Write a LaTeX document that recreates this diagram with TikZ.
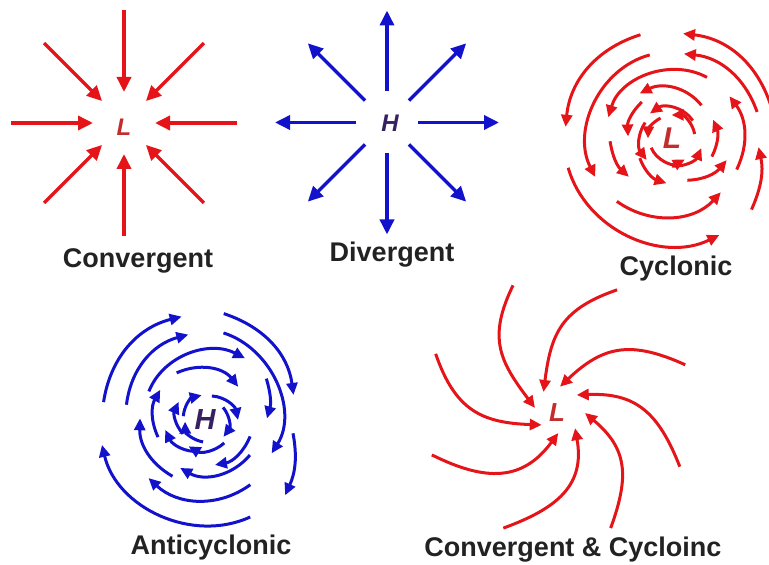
\documentclass[tikz,border=0pt]{standalone}
\usepackage{fontspec}
\setmainfont{Liberation Sans}
\usetikzlibrary{arrows.meta}
\definecolor{rd}{RGB}{228,20,24}
\definecolor{bl}{RGB}{18,18,205}
\definecolor{Ltxt}{RGB}{196,45,45}
\definecolor{Htxt}{RGB}{55,32,95}
\definecolor{lab}{RGB}{34,34,34}
\tikzset{
 straightred/.style={draw=rd, line width=3.5pt, -{Triangle[length=15pt,width=14pt]}},
 straightblue/.style={draw=bl, line width=3.5pt, -{Triangle[length=15pt,width=14pt]}},
 swirlred/.style={draw=rd, line width=3pt, -{Triangle[length=12pt,width=11pt]}},
 swirlblue/.style={draw=bl, line width=3pt, -{Triangle[length=12pt,width=11pt]}},
 caption/.style={font=\fontsize{27}{32}\selectfont\bfseries, text=lab, anchor=base, inner sep=0pt},
 lowL/.style={font=\fontsize{#1}{#1}\selectfont\bfseries\itshape, text=Ltxt, inner sep=0pt},
 highH/.style={font=\fontsize{#1}{#1}\selectfont\bfseries\itshape, text=Htxt, inner sep=0pt}
}
% counter-clockwise spiral segment: style, start angle, end angle, start radius, end radius
\newcommand\ccwarc[5]{%
 \pgfmathsetmacro\sph{atan((#5-#4)/((0.5*(#4+#5))*(abs(#3-#2)/180*pi)))}%
 \pgfmathsetmacro\aout{#2+90-\sph}\pgfmathsetmacro\ain{#3-90-\sph}%
 \draw[#1] (#2:#4) to[out=\aout,in=\ain] (#3:#5);}
% clockwise spiral segment
\newcommand\cwarc[5]{%
 \pgfmathsetmacro\sph{atan((#5-#4)/((0.5*(#4+#5))*(abs(#3-#2)/180*pi)))}%
 \pgfmathsetmacro\aout{#2-90+\sph}\pgfmathsetmacro\ain{#3+90+\sph}%
 \draw[#1] (#2:#4) to[out=\aout,in=\ain] (#3:#5);}
% inflowing arm
\newcommand\inarm[5]{\pgfmathsetmacro\aout{#2+135}\pgfmathsetmacro\ain{#3-40}\draw[#1] (#2:#4) to[out=\aout,in=\ain,looseness=1.2] (#3:#5);}
\begin{document}
\begin{tikzpicture}[x=1pt,y=1pt]
\useasboundingbox (0,0) rectangle (769,565);

% ---------- Convergent ----------
\node[lowL=24] (convL) at (124,438) {L};
\begin{scope}[shift={(124,442)}]
 \foreach \a in {0,45,...,315} \draw[straightred] (\a:113) -- (\a:31);
\end{scope}
\node[caption] (convlab) at (138,297) {Convergent};

% ---------- Divergent ----------
\node[highH=24] (divH) at (390,442) {H};
\begin{scope}[shift={(387,442.5)}]
 \foreach \a in {0,45,...,315} \draw[straightblue] (\a:31) -- (\a:112);
\end{scope}
\node[caption] (divlab) at (392,303) {Divergent};

% ---------- Cyclonic ----------
\node[lowL=30] (cycL) at (672,427) {L};
\begin{scope}[shift={(672,427)}]
 \ccwarc{swirlred}{19}{84}{104}{105}
 \ccwarc{swirlred}{107}{174}{108}{107}
 \ccwarc{swirlred}{196}{296}{108}{108}
 \ccwarc{swirlred}{318}{354}{107}{87}
 \ccwarc{swirlred}{17}{82}{89}{85}
 \ccwarc{swirlred}{105}{207}{86}{86}
 \ccwarc{swirlred}{229}{312}{84}{73}
 \ccwarc{swirlred}{334}{396}{72}{71}
 \ccwarc{swirlred}{60}{162}{70}{67}
 \ccwarc{swirlred}{48}{126}{44}{55}
 \ccwarc{swirlred}{183}{222}{62}{58}
 \ccwarc{swirlred}{290}{338}{45}{59}
 \ccwarc{swirlred}{130}{178}{47}{44}
 \ccwarc{swirlred}{212}{263}{38}{45.6}
 \ccwarc{swirlred}{335}{384}{44}{45}
 \ccwarc{swirlred}{40}{132}{27}{33}
 \ccwarc{swirlred}{150}{221}{31}{33.5}
 \ccwarc{swirlred}{270}{341}{28}{31}
 \ccwarc{swirlred}{10}{91}{23}{23}
 \ccwarc{swirlred}{120}{181}{23}{24}
 \ccwarc{swirlred}{205}{301}{23}{25}
\end{scope}
\node[caption] (cyclab) at (676,289) {Cyclonic};

% ---------- Anticyclonic ----------
\node[highH=29] (antiH) at (205,145) {H};
\begin{scope}[shift={(205,145)}]
 \cwarc{swirlblue}{170}{102.7}{103}{106}
 \cwarc{swirlblue}{80}{15.8}{108}{92}
 \cwarc{swirlblue}{-8.6}{-43.2}{89}{110}
 \cwarc{swirlblue}{295}{193.6}{107}{106}
 \cwarc{swirlblue}{169}{101}{80}{87}
 \cwarc{swirlblue}{305}{225.8}{79}{81}
 \cwarc{swirlblue}{78}{-26.6}{89}{74.5}
 \cwarc{swirlblue}{153}{57}{63}{73.5}
 \cwarc{swirlblue}{240}{178.5}{65}{65}
 \cwarc{swirlblue}{34}{1.5}{74}{62}
 \cwarc{swirlblue}{200}{146}{50}{54}
 \cwarc{swirlblue}{322}{242.6}{57}{54}
 \cwarc{swirlblue}{121}{45}{55}{47}
 \cwarc{swirlblue}{261}{194}{32}{41}
 \cwarc{swirlblue}{340}{282.5}{48}{46}
 \cwarc{swirlblue}{212}{145.5}{26}{32}
 \cwarc{swirlblue}{310}{238}{30}{31}
 \cwarc{swirlblue}{74}{0}{25}{33}
 \cwarc{swirlblue}{170}{97.6}{22}{25}
 \cwarc{swirlblue}{265}{184.8}{22}{20}
 \cwarc{swirlblue}{35}{-42.3}{22}{25}
\end{scope}
\node[caption] (antilab) at (211,10) {Anticyclonic};

% ---------- Convergent & Cyclonic ----------
\node[lowL=26] (ccL) at (557,152) {L};
\begin{scope}[shift={(557,152)}]
 \inarm{swirlred}{109}{167}{135}{22.6}
 \inarm{swirlred}{64}{122.7}{137}{25}
 \inarm{swirlred}{20.6}{83.5}{137}{26.5}
 \inarm{swirlred}{-23.6}{42.4}{134}{26.7}
 \inarm{swirlred}{-65}{0}{127}{28}
 \inarm{swirlred}{-115}{-40}{127}{23.6}
 \inarm{swirlred}{-161.5}{-86.3}{132}{20}
 \inarm{swirlred}{154}{218}{135}{19.4}
\end{scope}
\node[caption] (cclab) at (573,8) {Convergent \& Cycloinc};
\end{tikzpicture}
\end{document}
